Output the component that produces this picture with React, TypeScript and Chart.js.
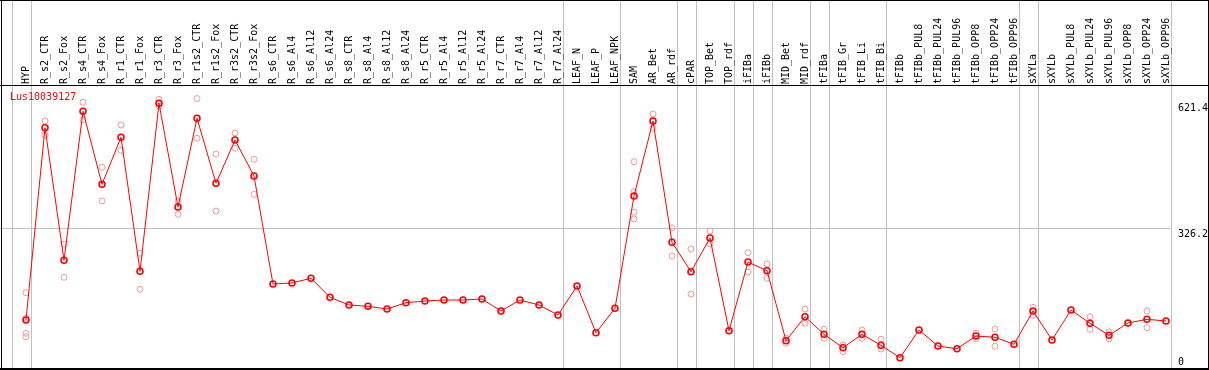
import React, { useEffect, useRef } from "react";
import { Chart, registerables } from "chart.js";

Chart.register(...registerables);

const geneId = "Lus10039127";

const categories = [
  "HYP", "R_s2_CTR", "R_s2_Fox", "R_s4_CTR", "R_s4_Fox", "R_r1_CTR", "R_r1_Fox",
  "R_r3_CTR", "R_r3_Fox", "R_r1s2_CTR", "R_r1s2_Fox", "R_r3s2_CTR", "R_r3s2_Fox",
  "R_s6_CTR", "R_s6_Al4", "R_s6_Al12", "R_s6_Al24", "R_s8_CTR", "R_s8_Al4",
  "R_s8_Al12", "R_s8_Al24", "R_r5_CTR", "R_r5_Al4", "R_r5_Al12", "R_r5_Al24",
  "R_r7_CTR", "R_r7_Al4", "R_r7_Al12", "R_r7_Al24", "LEAF_N", "LEAF_P", "LEAF_NPK",
  "SAM", "AR_Bet", "AR_rdf", "cPAR", "TOP_Bet", "TOP_rdf", "iFIBa", "iFIBb",
  "MID_Bet", "MID_rdf", "tFIBa", "tFIB_Gr", "tFIB_Li", "tFIB_Bi", "tFIBb",
  "tFIBb_PUL8", "tFIBb_PUL24", "tFIBb_PUL96", "tFIBb_OPP8", "tFIBb_OPP24", "tFIBb_OPP96",
  "sXYLa", "sXYLb", "sXYLb_PUL8", "sXYLb_PUL24", "sXYLb_PUL96", "sXYLb_OPP8",
  "sXYLb_OPP24", "sXYLb_OPP96",
];

const meanValues = [
  114.5, 554.6, 251.1, 592.2, 425.1, 532.7, 225.9,
  610.5, 373.1, 576.2, 427.4, 526.5, 444.1,
  196.9, 199.2, 209.9, 166.4, 148.8, 145.8,
  139.6, 154.1, 157.9, 160.2, 160.2, 162.5,
  135.1, 160.2, 148.8, 125.9, 192.3, 85.4, 141.2,
  398.3, 570.0, 292.3, 225.0, 302.2, 90.0, 247.2, 227.3,
  67.1, 122.0, 81.7, 51.0, 81.7, 56.5, 28.2,
  91.6, 54.9, 48.8, 77.8, 74.9, 58.8,
  135.1, 68.7, 137.3, 106.9, 79.4, 107.6,
  116.1, 112.2,
];

const replicateValues: number[][] = [
  [177.0, 118.3, 84.0, 76.2], [570.0, 537.9], [287.7, 212.2], [612.8, 572.3], [464.0, 386.9], [560.8, 502.9], [267.1, 184.7],
  [619.7, 604.3], [386.9, 356.4], [621.4, 530.4], [494.4, 364.0], [542.5, 507.5], [482.3, 402.2],
  [], [], [], [], [], [],
  [], [], [], [], [], [],
  [], [], [], [], [], [], [],
  [476.8, 408.1, 361.0, 345.7], [586.0, 553.3], [325.7, 261.0], [277.0, 174.0], [318.2, 288.4], [], [268.5, 224.3], [242.6, 209.9],
  [72.6, 61.1], [139.6, 106.9], [93.2, 72.6], [57.2, 41.9], [91.6, 72.6], [70.3, 48.1], [],
  [], [], [], [84.0, 71.6], [93.9, 54.3], [],
  [143.5, 125.2], [], [], [122.0, 93.2], [87.0, 71.6], [],
  [135.1, 96.8], [],
];

// index of the last category in each group (-1 = before the first)
const groupEnds = [-1, 0, 28, 31, 34, 35, 37, 38, 39, 41, 42, 45, 52, 53, 60];

const yTickLabels = [621.4, 326.2, 0];
const yMax = 652.4;

const FONT = '10px "DejaVu Sans Mono", monospace';

export default function App() {
  const ref = useRef<HTMLCanvasElement>(null);

  useEffect(() => {
    document.body.style.margin = "0";
    const canvas = ref.current!;

    const decorations = {
      id: "decorations",
      beforeDatasetsDraw(chart: any) {
        const ctx = chart.ctx as CanvasRenderingContext2D;
        const xs = chart.scales.x;
        const ys = chart.scales.y;
        const W = chart.width;
        const H = chart.height;
        const right = chart.chartArea.right;
        ctx.save();
        ctx.fillStyle = "#c0c0c0";
        for (const g of groupEnds) {
          const px = Math.round(xs.getPixelForValue(g + 0.24));
          ctx.fillRect(px, 0, 1, H);
        }
        const gy = Math.round(ys.getPixelForValue(yTickLabels[1]));
        ctx.fillRect(0, gy, right, 1);

        ctx.fillStyle = "#000000";
        ctx.fillRect(0, 0, W, 1);
        ctx.fillRect(0, 85, W, 1);
        ctx.fillRect(0, 368, W, 2);
        ctx.fillRect(1, 0, 1, H);
        ctx.fillRect(W - 1, 0, 1, H);

        // category labels
        ctx.font = FONT;
        ctx.fillStyle = "#000000";
        ctx.textAlign = "left";
        ctx.textBaseline = "middle";
        categories.forEach((c, i) => {
          const px = xs.getPixelForValue(i);
          ctx.save();
          ctx.translate(px, 84);
          ctx.rotate(-Math.PI / 2);
          ctx.fillText(c, 0, 0);
          ctx.restore();
        });

        // gene id
        ctx.fillStyle = "#ff0000";
        ctx.textBaseline = "top";
        ctx.fillText(geneId, 10, 92);

        // y labels
        ctx.fillStyle = "#000000";
        ctx.textBaseline = "alphabetic";
        const offsets = [12.5, 9, -5];
        yTickLabels.forEach((v, k) => {
          const py = ys.getPixelForValue(v) + offsets[k];
          ctx.fillText(String(v), 1178, py);
        });
        ctx.restore();
      },
    };

    const chart = new Chart(canvas, {
      type: "line",
      data: {
        datasets: [
          {
            label: "mean",
            data: meanValues.map((v, i) => ({ x: i, y: v })),
            borderColor: "#ff0000",
            borderWidth: 1,
            pointRadius: 3,
            pointBorderWidth: 1.6,
            pointBorderColor: "#ff0000",
            pointBackgroundColor: "rgba(0,0,0,0)",
            tension: 0,
          },
          {
            label: "replicates",
            data: replicateValues.flatMap((arr, i) => arr.map((v) => ({ x: i, y: v }))),
            showLine: false,
            pointRadius: 3,
            pointBorderWidth: 1,
            pointBorderColor: "#f09a9a",
            pointBackgroundColor: "rgba(0,0,0,0)",
          },
        ],
      },
      options: {
        responsive: false,
        animation: false,
        devicePixelRatio: 1,
        layout: { autoPadding: false, padding: { left: 1, top: 85, right: 39, bottom: 0 } },
        plugins: { legend: { display: false }, tooltip: { enabled: false } },
        scales: {
          x: { type: "linear", min: -25 / 19, max: 1144 / 19, display: false },
          y: { type: "linear", min: 0, max: yMax, display: false },
        },
      },
      plugins: [decorations],
    } as any);

    return () => chart.destroy();
  }, []);

  return (
    <div style={{ position: "absolute", left: 0, top: 0, width: 1209, height: 370, background: "#fff" }}>
      <canvas ref={ref} width={1209} height={370} style={{ display: "block" }} />
    </div>
  );
}
